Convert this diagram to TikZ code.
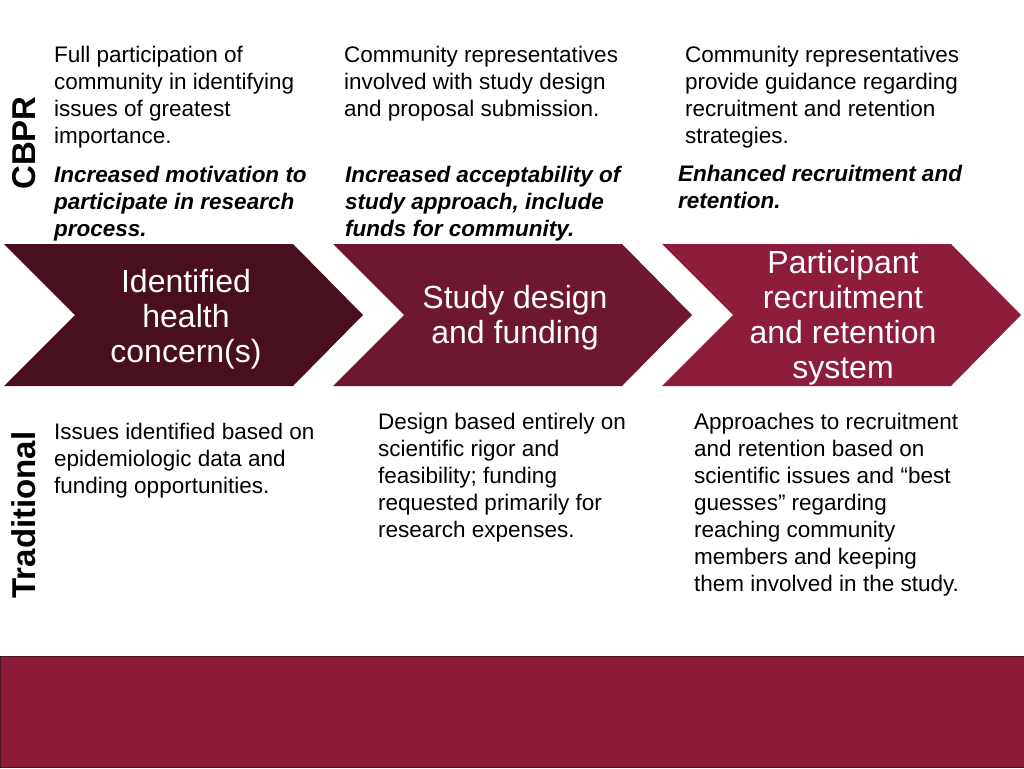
\documentclass[tikz,border=0pt]{standalone}
\usepackage{fontspec}
\setmainfont{Liberation Sans}
\definecolor{wineA}{HTML}{4A0F1F}
\definecolor{wineB}{HTML}{6E1830}
\definecolor{wineC}{HTML}{8E1C3B}
\definecolor{wineBar}{HTML}{8C1B3A}
\definecolor{wineEdge}{HTML}{4E1224}
\tikzset{
  note/.style={anchor=north west, align=left, inner sep=0pt,
    font=\fontsize{22.5}{27}\selectfont},
  gain/.style={note, font=\fontsize{22.5}{27}\selectfont\bfseries\itshape},
  side/.style={rotate=90, inner sep=0pt, font=\fontsize{33}{36}\selectfont\bfseries},
  stage/.style={align=center, text=white, inner sep=0pt,
    font=\fontsize{32}{35}\selectfont}
}

\begin{document}
\begin{tikzpicture}[x=1pt,y=-1pt]
    \useasboundingbox (0,0) rectangle (1024,768);
    % chevrons
    \foreach \L/\col in {4/wineA,333/wineB,662/wineC}
        \fill[\col] (\L,244) -- ++(289,0) -- ++(70,71) -- ++(-70,71)
            -- ++(-289,0) -- ++(71,-71) -- cycle;
    \node[stage] (identify) at (186,319) {Identified\\health\\concern(s)};
    \node[stage] (design) at (515,318) {Study design\\and funding};
    \node[stage] (recruit) at (843,318) {Participant\\recruitment\\and retention\\system};
    % row labels
    \node[side] (cbpr) at (24,143) {CBPR};
    \node[side] (trad) at (24,515) {Traditional};
    % CBPR notes
    \node[note] (cbpr1) at (54,46) {Full participation of\\community in identifying\\issues of greatest\\importance.};
    \node[gain] (gain1) at (54,166) {Increased motivation to\\participate in research\\process.};
    \node[note] (cbpr2) at (344,46) {Community representatives\\involved with study design\\and proposal submission.};
    \node[gain] (gain2) at (345,166) {Increased acceptability of\\study approach, include\\funds for community.};
    \node[note] (cbpr3) at (685,46) {Community representatives\\provide guidance regarding\\recruitment and retention\\strategies.};
    \node[gain] (gain3) at (678,165) {Enhanced recruitment and\\retention.};
    % traditional notes
    \node[note] (trad1) at (54,423) {Issues identified based on\\epidemiologic data and\\funding opportunities.};
    \node[note] (trad2) at (378,413) {Design based entirely on\\scientific rigor and\\feasibility; funding\\requested primarily for\\research expenses.};
    \node[note] (trad3) at (694,413) {Approaches to recruitment\\and retention based on\\scientific issues and “best\\guesses” regarding\\reaching community\\members and keeping\\them involved in the study.};
    % bottom bar
    \fill[wineBar,draw=wineEdge,line width=1pt] (0.5,656.5) rectangle (1024.5,767.5);
\end{tikzpicture}
\end{document}
